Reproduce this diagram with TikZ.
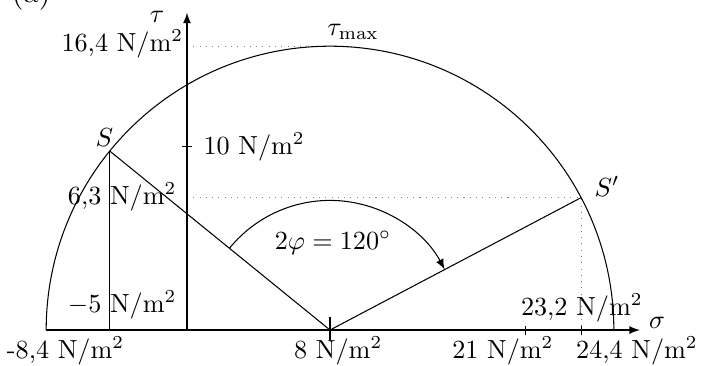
\documentclass[tikz,border=0pt]{standalone}
\usepackage{tikz}
\usetikzlibrary{arrows, positioning, calc}
\tikzset{
  axs/.style={->, >=latex},
  hlp/.style={dotted, gray},
  lab/.style={inner sep=1pt},
  tck/.style={thin}
}

\begin{document}
\begin{tikzpicture}[font=\normalsize]
		\useasboundingbox (-4.43,-0.47) rectangle (4.98,4.43);
		% points of the circle
		\coordinate (M) at (0,0);
		\coordinate (L) at (-3.81,0);
		\coordinate (R) at (3.81,0);
		\coordinate (Top) at (0,3.81);
		\coordinate (S) at (140.9:3.81);
		\coordinate (Sp) at (27.8:3.81);
		\coordinate (Sb) at (S |- M);
		\coordinate (Spb) at (Sp |- M);
		% axes
		\coordinate (T0) at (-1.92,0);
		\coordinate (Tt) at (-1.92,4.26);
		\coordinate (Se) at (4.16,0);
		\coordinate (T10) at (-1.92,2.46);
		\coordinate (T63) at (T0 |- Sp);
		\coordinate (T164) at (T0 |- Top);
		\coordinate (S21) at (2.63,0);
		\coordinate (A1) at (140.9:1.74);
		\draw[hlp] (T164) -- (Top);
		\draw[hlp] (T63) -- (Sp) -- (Spb);
		\draw (R) arc[start angle=0, end angle=180, radius=3.81];
		\draw[axs] (L) -- (Se);
		\draw[axs] (T0) -- (Tt);
		\draw (S) -- (Sb);
		\draw (S) -- (M) -- (Sp);
		\draw[axs] (A1) arc[start angle=140.9, end angle=27.8, radius=1.74];
		% ticks
		\draw[tck] ([xshift=-2pt]T10) -- ([xshift=2pt]T10);
		\draw[tck] ([yshift=5pt]M) -- ([yshift=-4pt]M);
		\draw[tck] ([yshift=1.5pt]S21) -- ([yshift=-2pt]S21);
		\draw[tck] ([yshift=1.5pt]Spb) -- ([yshift=-2pt]Spb);
		% labels
		\node[anchor=base] (a) at (-4.01,4.40) {\large (a)};
		\node (sig) at (4.39,0.09) {$\sigma$};
		\node (tau) at (-2.32,4.20) {$\tau$};
		\node (tmax) at (0.31,4.0) {$\tau_{\max}$};
		\node (nS) at (-3.03,2.58) {$S$};
		\node (nSp) at (3.72,1.93) {$S'$};
		\node (phi) at (0.04,1.17) {$2\varphi = 120^\circ$};
		\node[lab, anchor=east] (l164) at (-1.93,3.84) {16,4 N/m$^2$};
		\node[lab, anchor=west] (l10) at (-1.74,2.46) {10 N/m$^2$};
		\node[lab, anchor=east] (l63) at (-2.02,1.79) {6,3 N/m$^2$};
		\node[lab, anchor=east] (l5) at (-2.02,0.34) {$-5$ N/m$^2$};
		\node[lab] (l84) at (-3.55,-0.28) {-8,4 N/m$^2$};
		\node[lab] (l8) at (0.11,-0.28) {8 N/m$^2$};
		\node[lab] (l21) at (2.32,-0.28) {21 N/m$^2$};
		\node[lab] (l244) at (4.12,-0.28) {24,4 N/m$^2$};
		\node[lab] (l232) at (3.38,0.30) {23,2 N/m$^2$};
	\end{tikzpicture}
\end{document}
